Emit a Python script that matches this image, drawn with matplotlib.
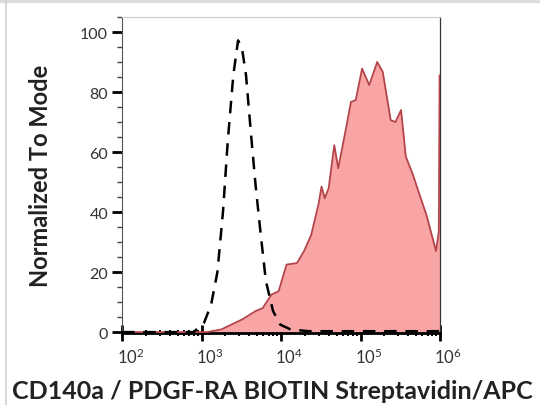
import numpy as np
import matplotlib
matplotlib.use("Agg")
import matplotlib.pyplot as plt
from matplotlib.ticker import FixedLocator, LogLocator, NullFormatter, MultipleLocator
from matplotlib.lines import Line2D
from matplotlib.transforms import ScaledTranslation

# ---- data (log10 intensity, normalized count) ----
stained_log = [2.0, 3.07, 3.25, 3.51, 3.68, 3.77, 3.88, 3.97, 4.07, 4.20, 4.29, 4.38,
               4.47, 4.51, 4.55, 4.60, 4.67, 4.72, 4.81, 4.88, 4.94, 5.02, 5.11,
               5.21, 5.28, 5.38, 5.44, 5.51, 5.57, 5.66, 5.73, 5.83, 5.95, 5.985, 5.995, 6.0]
stained_val = [0.0, 0.0, 0.9, 4.2, 7.0, 8.0, 12.5, 13.6, 22.5, 23.0, 27.0, 32.4,
               42.4, 48.5, 44.6, 48.0, 62.3, 54.6, 66.8, 76.7, 77.3, 87.8, 82.3,
               90.0, 86.7, 70.6, 70.0, 74.0, 58.5, 52.4, 46.8, 39.0, 27.0, 33.5, 85.6, 85.6]

control_log = [2.0, 2.9, 3.03, 3.12, 3.20, 3.27, 3.33, 3.40, 3.46, 3.51, 3.56, 3.62,
               3.68, 3.75, 3.81, 3.90, 3.99, 4.12, 4.35, 6.0]
control_val = [0.0, 0.0, 3.0, 9.0, 20.0, 40.0, 63.5, 85.6, 97.2, 94.5, 85.6, 66.8,
               49.0, 31.3, 17.0, 7.0, 2.5, 0.9, 0.3, 0.3]

x_ticks = [1e2, 1e3, 1e4, 1e5, 1e6]
x_ticklabels = [r"$10^{2}$", r"$10^{3}$", r"$10^{4}$", r"$10^{5}$", r"$10^{6}$"]
y_ticks = [0, 20, 40, 60, 80, 100]
x_label = "CD140a / PDGF-RA BIOTIN Streptavidin/APC"
y_label = "Normalized To Mode"

plt.rcParams['font.family'] = ['Lato', 'DejaVu Sans']
plt.rcParams['mathtext.fontset'] = 'custom'
plt.rcParams['mathtext.rm'] = 'Lato'
plt.rcParams['mathtext.it'] = 'Lato'

fig = plt.figure(figsize=(5.4, 4.06), dpi=100)
ax = fig.add_axes([122/540, 1-334/406, (440-122)/540, (334-18)/406])

sx = 10 ** np.array(stained_log)
cx = 10 ** np.array(control_log)

ax.fill_between(sx, 0, stained_val, color='#F9A5A5', lw=0, zorder=2)
ax.plot(sx, stained_val, color='#B4444A', lw=1.3, zorder=3)
ax.plot(cx, control_val, color='black', lw=1.8, ls=(0, (5, 3.5)), zorder=4)

ax.set_xscale('log')
ax.set_xlim(1e2, 1e6)
ax.set_ylim(-0.3, 105)

ax.xaxis.set_major_locator(FixedLocator(x_ticks))
ax.set_xticklabels(x_ticklabels)
ax.xaxis.set_minor_locator(LogLocator(base=10, subs=np.arange(2, 10)))
ax.xaxis.set_minor_formatter(NullFormatter())
ax.set_yticks(y_ticks)
ax.yaxis.set_minor_locator(MultipleLocator(5))

ax.tick_params(axis='x', which='major', direction='inout', length=11, width=2.0,
               colors='black', labelsize=12, labelcolor='#333333', pad=4)
ax.tick_params(axis='x', which='minor', direction='inout', length=5, width=1.4, colors='black')
ax.tick_params(axis='y', which='major', direction='out', length=7, width=2.0,
               colors='black', labelsize=11.5, labelcolor='#333333', pad=3)
ax.tick_params(axis='y', which='minor', direction='out', length=3.5, width=1.0, colors='#444444')

offset = ScaledTranslation(6/72, 0, fig.dpi_scale_trans)
for lab in ax.get_xticklabels():
    lab.set_transform(lab.get_transform() + offset)

ax.spines['bottom'].set_linewidth(2.0)
ax.spines['bottom'].set_color('black')
ax.spines['left'].set_linewidth(0.8)
ax.spines['left'].set_color('#555555')
ax.spines['top'].set_linewidth(0.8)
ax.spines['top'].set_color('#cccccc')
ax.spines['right'].set_linewidth(0.9)
ax.spines['right'].set_color('#333333')

fig.text(41/540, 1-176/406, y_label, rotation=90, ha='center', va='center',
         fontsize=17, fontweight='bold', color='#222222')
fig.text(272/540, 1-392/406, x_label, ha='center', va='center',
         fontsize=18, fontweight='bold', color='#222222')

# page frame
fig.add_artist(Line2D([0, 1], [1-1.5/406, 1-1.5/406], transform=fig.transFigure,
                      color='#dddddd', lw=3))
fig.add_artist(Line2D([6/540, 6/540], [0, 1], transform=fig.transFigure,
                      color='#cfcfcf', lw=1.2))

fig.savefig('out.png', dpi=100)
